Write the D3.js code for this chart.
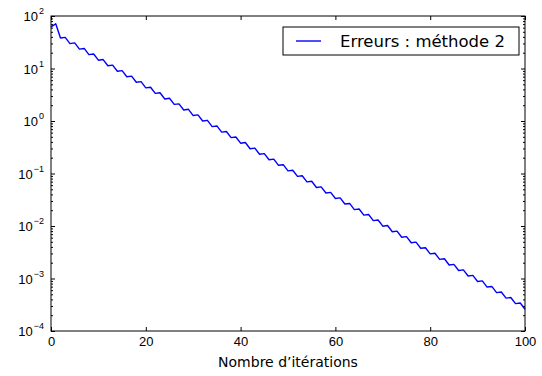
<!DOCTYPE html>
<html>
<head>
<meta charset="utf-8">
<script src="https://cdn.jsdelivr.net/npm/d3@7"></script>
<style>
  body { margin: 0; background: #fff; }
  svg { font-family: 'DejaVu Sans', sans-serif; }
  .axis path { stroke: #000; }
  .axis line { stroke: #000; }
</style>
</head>
<body>
<svg id="chart" width="542" height="376"></svg>
<script>
// errors per iteration
const errors = [
  62, 71, 38.0, 39.1, 29.8, 30.7, 23.4, 24.1, 18.4, 18.9,
  14.4, 14.8, 11.3, 11.6, 8.86, 9.11, 6.95, 7.15, 5.46, 5.61,
  4.28, 4.40, 3.36, 3.45, 2.63, 2.71, 2.07, 2.12, 1.62, 1.67,
  1.27, 1.31, 0.998, 1.03, 0.783, 0.805, 0.614, 0.631, 0.482, 0.495,
  0.378, 0.389, 0.296, 0.305, 0.2326, 0.239, 0.1825, 0.1876, 0.1432, 0.1472,
  0.1123, 0.1155, 0.0881, 0.0906, 0.0691, 0.0711, 0.0542, 0.0557, 0.0425, 0.0437,
  0.0334, 0.0343, 0.0262, 0.0269, 0.02055, 0.0211, 0.0161, 0.01657, 0.01264, 0.0130,
  0.00992, 0.0102, 0.00778, 0.0080, 0.0061, 0.00627, 0.00479, 0.00492, 0.00376, 0.00386,
  0.00295, 0.00303, 0.00231, 0.00238, 0.00181, 0.00186, 0.00142, 0.00146, 0.001116, 0.001147,
  0.000876, 0.0009, 0.000687, 0.000706, 0.000539, 0.000554, 0.000423, 0.000435, 0.000332, 0.000341,
  0.00026
];
const xTicks = [0, 20, 40, 60, 80, 100];
const yExponents = [-4, -3, -2, -1, 0, 1, 2];
const legendLabel = 'Erreurs : méthode 2';
const xLabel = 'Nombre d\u2019itérations';

const margin = { top: 16, right: 17, bottom: 45, left: 51 };
const width = 542 - margin.left - margin.right;
const height = 376 - margin.top - margin.bottom;

const svg = d3.select('#chart');
const g = svg.append('g').attr('transform', `translate(${margin.left},${margin.top})`);

const x = d3.scaleLinear().domain([0, 100]).range([0, width]);
const y = d3.scaleLog().domain([1e-4, 1e2]).range([height, 0]);

const majorY = yExponents.map(e => Math.pow(10, e));
const minorY = [];
yExponents.slice(0, -1).forEach(e => {
  for (let m = 2; m < 10; m++) minorY.push(m * Math.pow(10, e));
});

// line
const line = d3.line()
  .x((d, i) => x(i))
  .y(d => y(d));

g.append('path')
  .datum(errors)
  .attr('fill', 'none')
  .attr('stroke', '#0000ff')
  .attr('stroke-width', 1.4)
  .attr('stroke-linejoin', 'round')
  .attr('d', line);

// axes, ticks pointing inwards on all four sides
const bottom = g.append('g').attr('class', 'axis')
  .attr('transform', `translate(0,${height})`)
  .call(d3.axisBottom(x).tickValues(xTicks).tickSizeInner(-4).tickSizeOuter(0).tickPadding(6).tickFormat(d3.format('d')));
bottom.selectAll('text').attr('font-size', 13).attr('fill', '#000').attr('dy', '0.71em').attr('y', 6);

g.append('g').attr('class', 'axis')
  .call(d3.axisTop(x).tickValues(xTicks).tickSizeInner(-4).tickSizeOuter(0).tickFormat(''));

const left = g.append('g').attr('class', 'axis')
  .call(d3.axisLeft(y).tickValues(majorY).tickSizeInner(-4).tickSizeOuter(0).tickPadding(7).tickFormat(''));
left.selectAll('.tick text').each(function (d) {
  const t = d3.select(this)
    .attr('font-size', 13)
    .attr('fill', '#000')
    .attr('text-anchor', 'end')
    .attr('x', -7)
    .attr('dy', '0.36em');
  t.append('tspan').text('10');
  t.append('tspan')
    .attr('font-size', 9)
    .attr('dy', '-0.75em')
    .attr('dx', '1')
    .text(Math.round(Math.log10(d)).toString().replace('-', '\u2212'));
});

g.append('g').attr('class', 'axis')
  .call(d3.axisLeft(y).tickValues(minorY).tickSizeInner(-2).tickSizeOuter(0).tickFormat(''));

g.append('g').attr('class', 'axis')
  .attr('transform', `translate(${width},0)`)
  .call(d3.axisRight(y).tickValues(majorY).tickSizeInner(-4).tickSizeOuter(0).tickFormat(''));
g.append('g').attr('class', 'axis')
  .attr('transform', `translate(${width},0)`)
  .call(d3.axisRight(y).tickValues(minorY).tickSizeInner(-2).tickSizeOuter(0).tickFormat(''));

g.selectAll('.axis .domain').remove();

// frame
g.append('rect')
  .attr('width', width)
  .attr('height', height)
  .attr('fill', 'none')
  .attr('stroke', '#000')
  .attr('stroke-width', 1);

// x label
g.append('text')
  .attr('x', width / 2)
  .attr('y', height + 36)
  .attr('text-anchor', 'middle')
  .attr('font-size', 14)
  .text(xLabel);

// legend
const legend = g.append('g').attr('transform', `translate(${width - 242},${11})`);
legend.append('rect')
  .attr('width', 236)
  .attr('height', 28)
  .attr('fill', '#fff')
  .attr('stroke', '#000')
  .attr('stroke-width', 1);
legend.append('line')
  .attr('x1', 13).attr('x2', 38)
  .attr('y1', 14).attr('y2', 14)
  .attr('stroke', '#0000ff')
  .attr('stroke-width', 1.4);
legend.append('text')
  .attr('x', 57)
  .attr('y', 14)
  .attr('dy', '0.36em')
  .attr('font-size', 16.5)
  .text(legendLabel);
</script>
</body>
</html>
